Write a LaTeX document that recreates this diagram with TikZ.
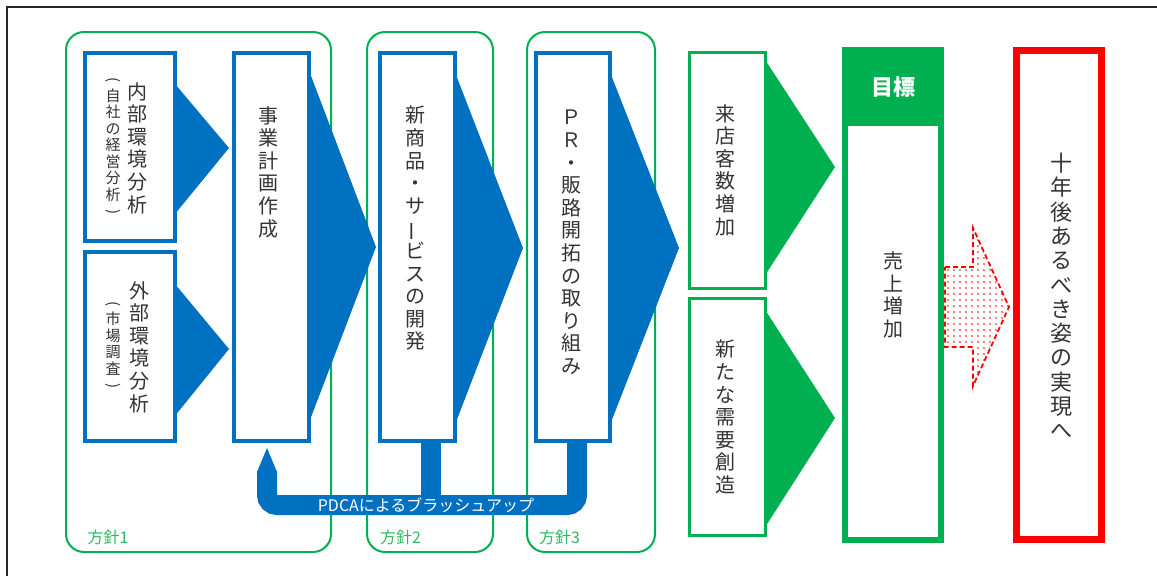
\documentclass[tikz,border=0pt]{standalone}
\usepackage{fontspec}
\setmainfont{Noto Sans CJK JP}
\usetikzlibrary{patterns.meta}
\definecolor{myblue}{HTML}{0070C0}
\definecolor{mygreen}{HTML}{00B050}
\definecolor{lblgreen}{HTML}{2DB860}
\definecolor{txtgray}{HTML}{333333}
\newcommand{\vbar}{\rotatebox[origin=c]{90}{ー}}
\newcommand{\vlp}{\rotatebox[origin=c]{-90}{(}}
\newcommand{\vrp}{\rotatebox[origin=c]{-90}{)}}
\begin{document}
\begin{tikzpicture}[x=1pt,y=-1pt,
  frameline/.style={draw=black!85, line width=2pt},
  policy/.style={draw=mygreen, line width=2pt, rounded corners=18pt, inner sep=0pt},
  lbl/.style={text=lblgreen, font=\fontsize{16}{18}\selectfont, inner sep=0pt},
  bbox/.style={draw=myblue, line width=3.5pt, fill=white, inner sep=0pt},
  gbox/.style={draw=mygreen, line width=3pt, fill=white, inner sep=0pt},
  btri/.style={fill=myblue},
  gtri/.style={fill=mygreen},
  vt/.style={align=center, inner sep=0pt, text=txtgray, font=\fontsize{20}{22.6}\selectfont},
  vts/.style={align=center, inner sep=0pt, text=txtgray, font=\fontsize{15}{16.5}\selectfont},
  pdca/.style={draw=myblue, line width=20pt, rounded corners=10pt},
  pdcatext/.style={text=white, font=\fontsize{16}{18}\selectfont, inner sep=0pt},
  goalbox/.style={fill=mygreen, inner sep=0pt},
  goalin/.style={fill=white, inner sep=0pt},
  redbox/.style={draw=red, line width=7pt, fill=white, inner sep=0pt},
  redarrow/.style={draw=red, line width=1.8pt, dash pattern=on 5pt off 3pt,
     pattern={Dots[distance=6pt, radius=0.9pt]}, pattern color=red}
]
\useasboundingbox (0,0) rectangle (1157,576);
\draw[frameline] (7,576) -- (7,7) -- (1157,7);

% policy frames
\node[policy, minimum width=265pt, minimum height=520pt] (p1) at (198.5,292) {};
\node[policy, minimum width=126pt, minimum height=520pt] (p2) at (430,292) {};
\node[policy, minimum width=128pt, minimum height=520pt] (p3) at (591,292) {};
\node[lbl] (l1) at (108,537) {方針1};
\node[lbl] (l2) at (400.5,537) {方針2};
\node[lbl] (l3) at (559.5,537) {方針3};

% blue chevron heads
\fill[btri] (170,78) -- (229,148) -- (170,220) -- cycle;
\fill[btri] (170,278) -- (229,349) -- (170,422) -- cycle;
\fill[btri] (305,60) -- (376,247) -- (305,433) -- cycle;
\fill[btri] (451,62) -- (523,248) -- (451,435) -- cycle;
\fill[btri] (606,62) -- (679,248) -- (606,435) -- cycle;

% blue boxes
\node[bbox, minimum width=90pt, minimum height=188pt] (naibu) at (130,147) {};
\node[bbox, minimum width=90pt, minimum height=189pt] (gaibu) at (130,346.5) {};
\node[bbox, minimum width=75pt, minimum height=388pt] (jigyo) at (271.5,247) {};
\node[bbox, minimum width=75pt, minimum height=388pt] (shin) at (417.5,247) {};
\node[bbox, minimum width=74pt, minimum height=388pt] (pr) at (573,247) {};

\node[vt] (tnaibu) at (137,148) {内\\部\\環\\境\\分\\析};
\node[vts] (snaibu) at (113,147) {\vlp\\自\\社\\の\\経\\営\\分\\析\\\vrp};
\node[vt] (tgaibu) at (139,347) {外\\部\\環\\境\\分\\析};
\node[vts] (sgaibu) at (113,346) {\vlp\\市\\場\\調\\査\\\vrp};
\node[vt, anchor=north] (tjigyo) at (268.5,106) {事\\業\\計\\画\\作\\成};
\node[vt, anchor=north] (tshin) at (415,106) {新\\商\\品\\・\\サ\\\vbar\\ビ\\ス\\の\\開\\発};
\node[vt, anchor=north] (tpr) at (571,110) {Ｐ\\Ｒ\\・\\販\\路\\開\\拓\\の\\取\\り\\組\\み};

% PDCA loop
\coordinate (tip) at (267,448);
\fill[myblue] (257,472) -- (tip) -- (277,472) -- cycle;
\draw[pdca] (267,471) -- (267,505) -- (577,505) -- (577,441);
\draw[pdca] (431,441) -- (431,506);
\node[pdcatext] (pdcat) at (426,505) {PDCAによるブラッシュアップ};

% green chevrons
\fill[gtri] (762,55) -- (835,167) -- (762,280) -- cycle;
\fill[gtri] (762,305) -- (835,418) -- (762,532) -- cycle;
\node[gbox, minimum width=76pt, minimum height=236pt] (raiten) at (727.5,170.5) {};
\node[gbox, minimum width=76pt, minimum height=237pt] (juyo) at (727.5,417) {};
\node[vt] (traiten) at (725,170) {来\\店\\客\\数\\増\\加};
\node[vt] (tjuyo) at (725,417) {新\\た\\な\\需\\要\\創\\造};

% goal
\node[goalbox, minimum width=102pt, minimum height=496pt] (goal) at (893,295) {};
\node[goalin, minimum width=90pt, minimum height=411pt] (goalinner) at (893,331.5) {};
\node[text=white, inner sep=0pt, font=\fontsize{22}{24}\selectfont\bfseries] (goaltitle) at (893,87) {目標};
\node[vt] (tgoal) at (893,295) {売\\上\\増\\加};

% red vision box
\node[redbox, minimum width=85pt, minimum height=489pt] (vision) at (1059,295) {};
\node[vt, font=\fontsize{22}{24.3}\selectfont] (tvision) at (1061,296) {十\\年\\後\\あ\\る\\べ\\き\\姿\\の\\実\\現\\へ};

% red dotted arrow
\draw[redarrow] (945,267) -- (973,267) -- (973,228) -- (1009,307) -- (973,386) -- (973,347) -- (945,347) -- cycle;
\end{tikzpicture}
\end{document}
